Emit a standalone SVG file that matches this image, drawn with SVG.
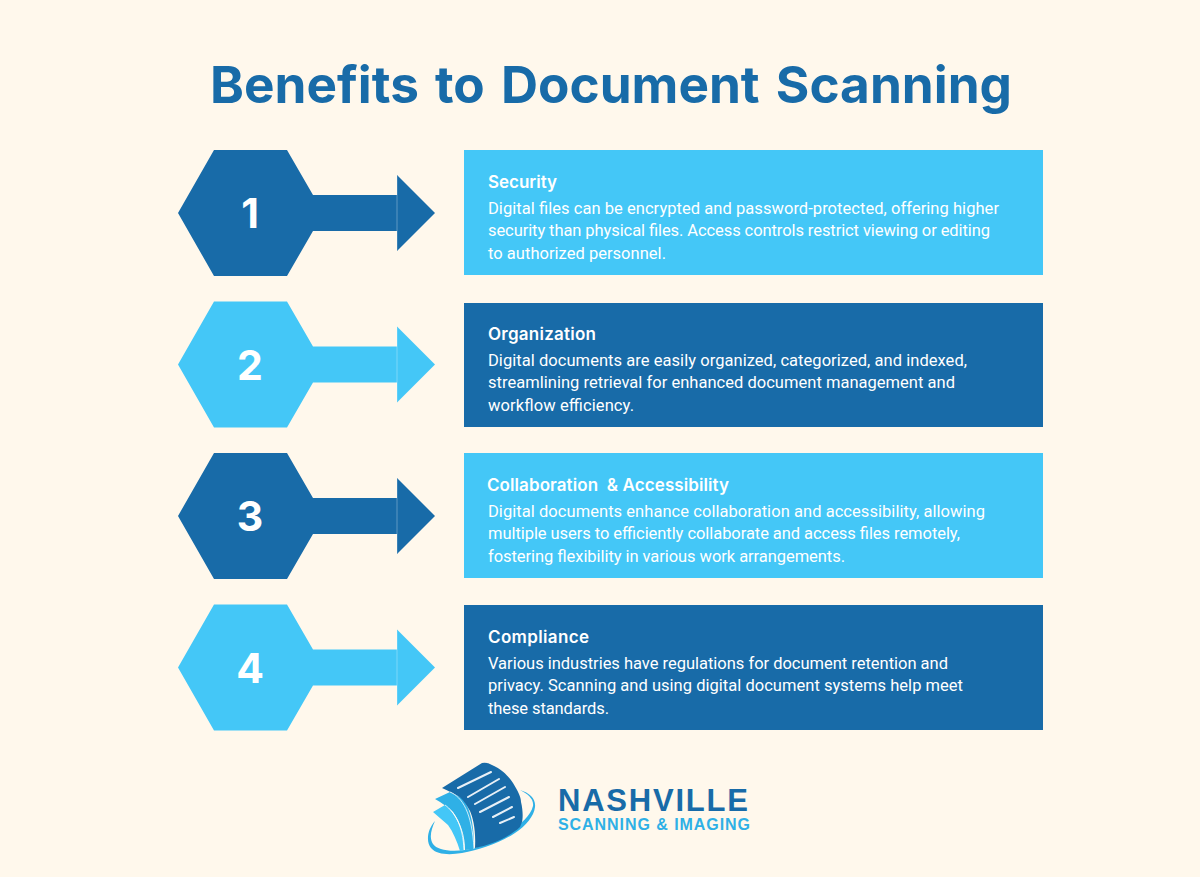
<svg xmlns="http://www.w3.org/2000/svg" width="1200" height="877" viewBox="0 0 1200 877">
<style>
.dark{fill:#186ba8}.light{fill:#44c7f7}
.seam{stroke:#fff;stroke-opacity:.3;stroke-width:1;fill:none}
.num{font:700 41px Inter,"Open Sans",sans-serif;fill:#fff;text-anchor:middle}
.h{font:600 17px Inter,"Open Sans",sans-serif;fill:#fff}
.b{font:400 16.5px Roboto,"Noto Sans",sans-serif;fill:#fff}
.wl{stroke:#fff;stroke-opacity:.9;stroke-width:2;stroke-linecap:round;fill:none}
.sep{stroke:#fff;stroke-opacity:.75;stroke-width:1;fill:none}
</style>
<defs>
<g id="pointer">
<path d="M178 0L214-63H287L313-18H397V-38L435 0L397 38V18H313L287 63H214Z"/>
<path class="seam" d="M397-37V37"/>
</g>
</defs>
<rect width="1200" height="877" fill="#fff8ec"/>
<text id="title" x="611" y="103" text-anchor="middle" font-family="Inter, sans-serif" font-weight="700" font-size="51" word-spacing="4" fill="#186ba8" textLength="802" lengthAdjust="spacingAndGlyphs">Benefits to Document Scanning</text>
<g id="node-1"><use href="#pointer" class="dark" transform="translate(0 213)"/><text class="num" x="250" y="228">1</text></g>
<g id="node-2"><use href="#pointer" class="light" transform="translate(0 364.5)"/><text class="num" x="250" y="380">2</text></g>
<g id="node-3"><use href="#pointer" class="dark" transform="translate(0 516)"/><text class="num" x="250" y="531">3</text></g>
<g id="node-4"><use href="#pointer" class="light" transform="translate(0 667.5)"/><text class="num" x="250" y="683">4</text></g>
<g id="card-1"><rect class="light" x="464" y="150" width="579" height="125"/>
<text class="h" x="488" y="188" textLength="69">Security</text>
<text class="b" x="488" y="214" textLength="511">Digital files can be encrypted and password-protected, offering higher</text>
<text class="b" x="488" y="236" textLength="502">security than physical files. Access controls restrict viewing or editing</text>
<text class="b" x="488" y="259" textLength="178">to authorized personnel.</text></g>
<g id="card-2"><rect class="dark" x="464" y="303" width="579" height="124"/>
<text class="h" x="488" y="340" textLength="108">Organization</text>
<text class="b" x="488" y="366" textLength="479">Digital documents are easily organized, categorized, and indexed,</text>
<text class="b" x="488" y="388" textLength="467">streamlining retrieval for enhanced document management and</text>
<text class="b" x="488" y="411" textLength="146">workflow efficiency.</text></g>
<g id="card-3"><rect class="light" x="464" y="453" width="579" height="125"/>
<text class="h" x="487" y="491" textLength="242" xml:space="preserve">Collaboration  &amp; Accessibility</text>
<text class="b" x="488" y="517" textLength="497">Digital documents enhance collaboration and accessibility, allowing</text>
<text class="b" x="488" y="539" textLength="472">multiple users to efficiently collaborate and access files remotely,</text>
<text class="b" x="488" y="562" textLength="357">fostering flexibility in various work arrangements.</text></g>
<g id="card-4"><rect class="dark" x="464" y="605" width="579" height="125"/>
<text class="h" x="488" y="643" textLength="101">Compliance</text>
<text class="b" x="488" y="669" textLength="460">Various industries have regulations for document retention and</text>
<text class="b" x="488" y="691" textLength="475">privacy. Scanning and using digital document systems help meet</text>
<text class="b" x="488" y="714" textLength="121">these standards.</text></g>
<g id="logo">
<path d="M520 790C530 793 536 799 535 807C534 816 526 826 515 833C500 843 480 850 462 853C450 855 437 855 431 848C426 842 427 830 435 821C431 830 429 838 433 844C437 850 450 852 465 850C482 847 497 840 508 833C520 825 531 815 533 806C534 799 528 794 520 790Z" fill="#2fb0e6"/>
<path d="M433 812L445 805C453 811 460 824 463 836L464 850L460 851C457 841 453 832 448 825Z" fill="#44c7f7"/>
<path d="M435 799L450 792L462 798C470 808 474 822 474 849L465 850C465 836 461 823 453 812C448 807 442 803 435 799Z" fill="#2fb0e6"/>
<path d="M442 788L482 763Q487 762 492 765C503 770 509 777 513 783C518 791 521 797 521 802C523 810 523 818 522 822L520 827C508 838 490 845 475 848C476 830 473 818 470 811C466 804 462 798 458 796C453 793 448 791 442 788Z" fill="#186ba8"/>
<path class="sep" d="M450 792C462 797 472 812 474 849M445 805C455 812 463 826 464 850"/>
<path class="wl" d="M458 788L491 772M468 797L499 779M475 804L505 787M480 812L509 797M493 817L512 807M500 823L514 817"/>
<text x="558" y="811" font-family="Liberation Sans, sans-serif" font-weight="700" font-size="31" fill="#186ba8" textLength="190">NASHVILLE</text>
<text x="558" y="830" font-family="Liberation Sans, sans-serif" font-weight="700" font-size="16" fill="#2fb0e6" textLength="192">SCANNING &amp; IMAGING</text>
</g>
</svg>
